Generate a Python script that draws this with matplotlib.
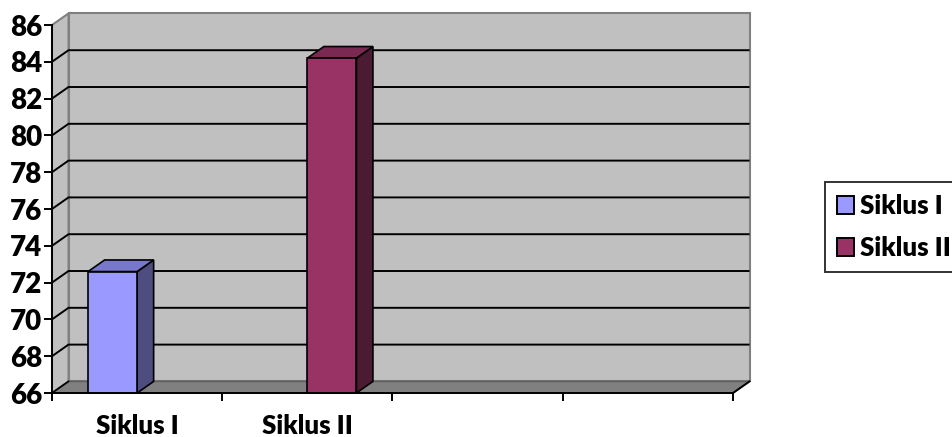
import matplotlib.pyplot as plt
from matplotlib.patches import Polygon, Patch
import numpy as np

# data
categories = ['Siklus I', 'Siklus II', '', '']
series_names = ['Siklus I', 'Siklus II']
siklus_i = [72.6, np.nan, np.nan, np.nan]
siklus_ii = [np.nan, 84.2, np.nan, np.nan]
y_ticks = [66, 68, 70, 72, 74, 76, 78, 80, 82, 84, 86]

front_colors = ['#9999ff', '#993366']
top_colors = ['#7777cc', '#7a2952']
side_colors = ['#4d4d80', '#4d1a33']

plt.rcParams['font.family'] = ['Lato', 'DejaVu Sans']
plt.rcParams['font.weight'] = 'bold'

fig = plt.figure(figsize=(9.53, 4.37), dpi=100)
W, H = 953, 437
ax = fig.add_axes([52 / W, (H - 393) / H, 681 / W, 368 / H])

ymin, ymax = y_ticks[0], y_ticks[-1]
ncat = len(categories)
ax.set_xlim(0, ncat)
ax.set_ylim(ymin, ymax)
ax.patch.set_visible(False)

# depth offset of the 3d box, in data units
DX = 0.097
DY = 0.63

def poly(pts, fc, ec, lw, z):
    p = Polygon(pts, closed=True, facecolor=fc, edgecolor=ec, linewidth=lw,
                zorder=z, clip_on=False, joinstyle='miter')
    ax.add_patch(p)

# back wall, side wall, floor
poly([(DX, ymin + DY), (ncat + DX, ymin + DY), (ncat + DX, ymax + DY), (DX, ymax + DY)],
     '#c0c0c0', '#808080', 1.5, 0)
poly([(0, ymin), (DX, ymin + DY), (DX, ymax + DY), (0, ymax)], '#c0c0c0', '#808080', 1.5, 0)
poly([(0, ymin), (ncat, ymin), (ncat + DX, ymin + DY), (DX, ymin + DY)], '#808080', '#606060', 1.2, 0.5)
ax.plot([ncat, ncat + DX], [ymin, ymin + DY], color='black', lw=1.4, clip_on=False, zorder=1)
ax.plot([0, DX], [ymin, ymin + DY], color='black', lw=1.2, clip_on=False, zorder=1)

# gridlines on walls
for v in y_ticks[1:-1]:
    ax.plot([0, DX, ncat + DX], [v, v + DY, v + DY], color='black', lw=1.4,
            clip_on=False, zorder=1, solid_capstyle='butt')

# bars
bw = 0.288
for s, vals in enumerate([siklus_i, siklus_ii]):
    for i, v in enumerate(vals):
        if np.isnan(v):
            continue
        x0 = i + 0.5 - bw + s * bw
        x1 = x0 + bw
        poly([(x1, ymin), (x1 + DX, ymin + DY), (x1 + DX, v + DY), (x1, v)],
             side_colors[s], 'black', 1.2, 3)
        poly([(x0, v), (x1, v), (x1 + DX, v + DY), (x0 + DX, v + DY)],
             top_colors[s], 'black', 1.2, 3)
        poly([(x0, ymin), (x1, ymin), (x1, v), (x0, v)],
             front_colors[s], 'black', 1.2, 4)

# axes
for side in ['top', 'right']:
    ax.spines[side].set_visible(False)
for side in ['left', 'bottom']:
    ax.spines[side].set_color('black')
    ax.spines[side].set_linewidth(1.4)
    ax.spines[side].set_zorder(5)

ax.set_yticks(y_ticks)
ax.set_yticklabels([str(t) for t in y_ticks])
ax.tick_params(axis='y', direction='out', length=6, width=1.4, pad=1,
               labelsize=20, colors='black')
ax.set_xticks(range(ncat + 1))
ax.set_xticklabels([])
ax.tick_params(axis='x', which='major', direction='out', length=6, width=1.4)
ax.set_xticks(np.arange(ncat) + 0.5, minor=True)
ax.set_xticklabels(categories, minor=True)
ax.tick_params(axis='x', which='minor', length=0, pad=15, labelsize=18.5)
for lbl in ax.get_yticklabels() + ax.get_xticklabels(minor=True):
    lbl.set_fontweight('heavy')

handles = [Patch(facecolor=front_colors[k], edgecolor='black', linewidth=1.4, label=series_names[k])
           for k in range(2)]
leg = fig.legend(handles=handles, loc='upper left', bbox_to_anchor=(825 / W, 1 - 182 / H),
                 frameon=True, fancybox=False, edgecolor='black', handlelength=0.65,
                 handleheight=0.65, handletextpad=0.25, borderpad=0.47, labelspacing=0.7,
                 borderaxespad=0, prop={'size': 18.5, 'weight': 'heavy'})
leg.get_frame().set_linewidth(1.4)

fig.savefig('out.png', dpi=100)
